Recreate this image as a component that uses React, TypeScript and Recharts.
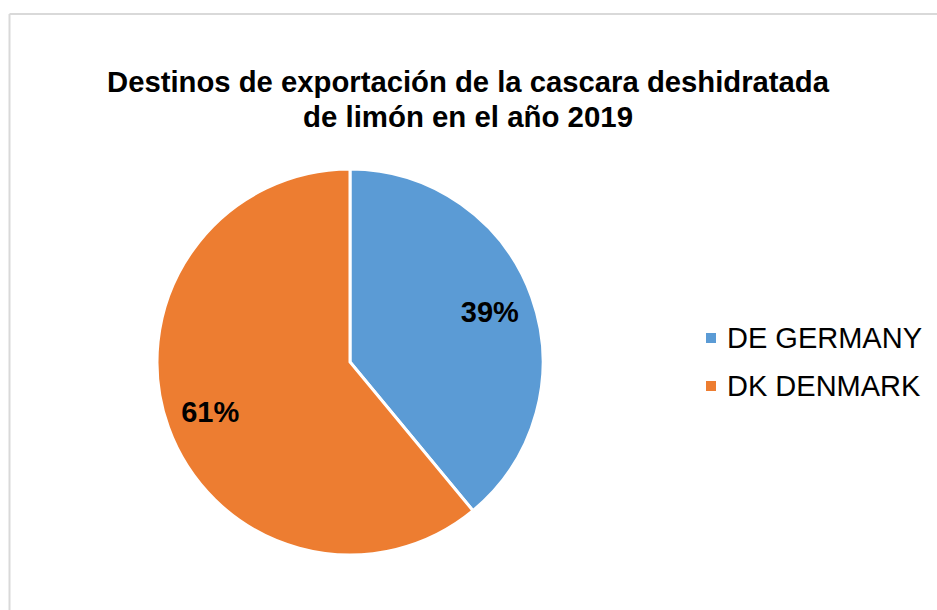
import React from 'react';
import { PieChart, Pie, Cell, Legend } from 'recharts';

const countries = ['DE GERMANY', 'DK DENMARK'];
const shares = [39, 61];
const colors = ['#5B9BD5', '#ED7D31'];
const titleLines = ['Destinos de exportación de la cascara deshidratada', 'de limón en el año 2019'];
const titleWidths = [722, 330];

const data = countries.map((name, i) => ({ name, value: shares[i] }));

const FONT = '"Liberation Sans", Arial, sans-serif';
const RAD = Math.PI / 180;

const renderLabel = (props: any) => {
  const { cx, cy, midAngle, outerRadius, value } = props;
  const r = outerRadius * 0.77;
  const x = cx + r * Math.cos(-midAngle * RAD);
  const y = cy + r * Math.sin(-midAngle * RAD);
  return (
    <text
      x={x}
      y={y}
      textAnchor="middle"
      dominantBaseline="central"
      fontFamily={FONT}
      fontWeight="bold"
      fontSize={29}
      fill="#000"
    >
      {`${value}%`}
    </text>
  );
};

const renderLegend = () => (
  <div style={{ fontFamily: FONT, fontSize: 29, color: '#000' }}>
    {data.map((d, i) => (
      <div key={d.name} style={{ display: 'flex', alignItems: 'center', height: 48 }}>
        <span
          style={{ width: 10, height: 10, background: colors[i], display: 'inline-block', marginRight: 11 }}
        />
        <span>{d.name}</span>
      </div>
    ))}
  </div>
);

export default function App() {
  return (
    <div style={{ position: 'absolute', left: 0, top: 0, width: 937, height: 610, background: '#fff' }}>
      <svg width={937} height={610} style={{ position: 'absolute', left: 0, top: 0 }}>
        <line x1={9.5} y1={14} x2={937} y2={14} stroke="#d9d9d9" strokeWidth={2} />
        <line x1={9.5} y1={14} x2={9.5} y2={610} stroke="#d9d9d9" strokeWidth={2} />
        {titleLines.map((t, i) => (
          <text
            key={i}
            x={468}
            y={92 + i * 35}
            textAnchor="middle"
            fontFamily={FONT}
            fontWeight="bold"
            fontSize={29}
            textLength={titleWidths[i]}
            lengthAdjust="spacingAndGlyphs"
            fill="#000"
          >
            {t}
          </text>
        ))}
      </svg>
      <div style={{ position: 'absolute', left: 0, top: 0 }}>
        <PieChart width={937} height={610} margin={{ top: 0, right: 0, bottom: 0, left: 0 }}>
          <Pie
            data={data}
            dataKey="value"
            nameKey="name"
            cx={350}
            cy={362}
            outerRadius={193}
            startAngle={90}
            endAngle={-270}
            stroke="#fff"
            strokeWidth={3}
            label={renderLabel}
            labelLine={false}
            isAnimationActive={false}
          >
            {data.map((d, i) => (
              <Cell key={d.name} fill={colors[i]} />
            ))}
          </Pie>
          <Legend
            content={renderLegend}
            layout="vertical"
            wrapperStyle={{ position: 'absolute', left: 706, top: 314, width: 230 }}
          />
        </PieChart>
      </div>
    </div>
  );
}
